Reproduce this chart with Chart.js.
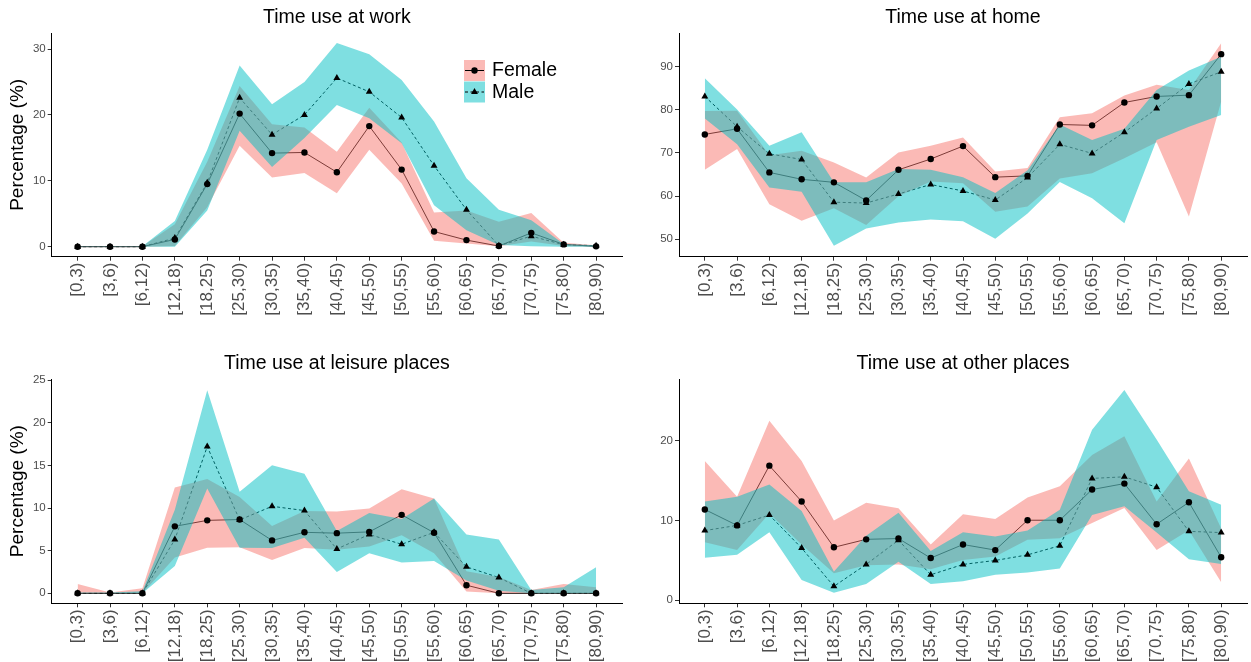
<!DOCTYPE html>
<html>
<head>
<meta charset="utf-8">
<script src="https://cdn.jsdelivr.net/npm/chart.js@4.4.0/dist/chart.umd.min.js"></script>
<style>
  html, body { margin: 0; padding: 0; background: #fff; }
  body { width: 1251px; height: 662px; position: relative; overflow: hidden; }
  .panel { position: absolute; }
  canvas { display: block; }
</style>
</head>
<body>
<div class="panel" style="left:0;top:0"><canvas id="work" width="626" height="331"></canvas></div>
<div class="panel" style="left:626px;top:0"><canvas id="home" width="625" height="331"></canvas></div>
<div class="panel" style="left:0;top:346px"><canvas id="leisure" width="626" height="316"></canvas></div>
<div class="panel" style="left:626px;top:346px"><canvas id="other" width="625" height="316"></canvas></div>
<script>
// Age groups
const categories = ['[0,3)', '[3,6)', '[6,12)', '[12,18)', '[18,25)', '[25,30)', '[30,35)', '[35,40)', '[40,45)',
    '[45,50)', '[50,55)', '[55,60)', '[60,65)', '[65,70)', '[70,75)', '[75,80)', '[80,90)'];

// Time use at work (%)
const femaleWork   = [0, 0, 0, 1.1, 9.5, 20.2, 14.2, 14.3, 11.3, 18.3, 11.7, 2.3, 1.0, 0.1, 2.1, 0.35, 0.05];
const femaleWorkLo = [0, 0, 0, 0.1, 6.0, 15.3, 10.5, 11.2, 8.1, 14.7, 9.6, 0.9, 0.5, 0.05, 0.8, 0.1, 0];
const femaleWorkHi = [0.05, 0.05, 0.05, 3.4, 12.9, 24.4, 18.6, 18.1, 14.4, 21.1, 15.8, 5.2, 5.5, 3.8, 5.1, 0.6, 0.2];
const maleWork     = [0, 0, 0, 1.3, 9.7, 22.6, 17.0, 20.0, 25.6, 23.5, 19.6, 12.3, 5.6, 0.15, 1.6, 0.3, 0.15];
const maleWorkLo   = [0, 0, 0, 0, 5.5, 17.6, 12.1, 16.5, 21.5, 19.5, 15.7, 6.3, 2.5, 0.25, 0.05, 0, 0];
const maleWorkHi   = [0.05, 0.05, 0.05, 3.9, 14.7, 27.5, 21.6, 25.0, 30.9, 29.2, 25.3, 19.0, 10.4, 5.6, 4.0, 0.4, 0.2];
const workTicks = [0, 10, 20, 30];

// Time use at home (%)
const femaleHome   = [74.3, 75.6, 65.5, 63.9, 63.2, 59.0, 66.1, 68.6, 71.6, 64.4, 64.7, 76.6, 76.4, 81.7, 83.1, 83.4, 92.9];
const femaleHomeLo = [66.1, 70.9, 58.1, 54.3, 57.2, 53.3, 60.0, 63.4, 63.0, 56.4, 57.6, 64.1, 65.3, 68.8, 72.5, 55.3, 81.9];
const femaleHomeHi = [79.7, 79.8, 69.5, 70.5, 67.8, 64.3, 70.1, 71.7, 73.6, 65.7, 66.5, 78.3, 79.2, 83.3, 85.8, 84.6, 95.4];
const maleHome     = [83.1, 76.1, 69.8, 68.5, 58.6, 58.4, 60.5, 62.7, 61.2, 59.1, 64.3, 72.0, 69.9, 74.8, 80.3, 86.0, 88.8];
const maleHomeLo   = [78.0, 72.0, 62.0, 61.0, 48.5, 52.5, 53.9, 54.6, 54.2, 50.1, 56.0, 63.3, 59.5, 53.7, 73.0, 76.1, 78.8];
const maleHomeHi   = [87.3, 80.1, 71.7, 74.8, 63.2, 63.2, 66.3, 66.1, 64.4, 60.7, 66.0, 76.6, 73.0, 75.6, 84.6, 89.1, 92.3];
const homeTicks = [50, 60, 70, 80, 90];

// Time use at leisure places (%)
const femaleLeisure   = [0, 0, 0, 7.85, 8.55, 8.65, 6.2, 7.15, 7.05, 7.2, 9.2, 7.1, 0.95, 0, 0, 0, 0];
const femaleLeisureLo = [0, 0, 0, 4.2, 5.35, 5.4, 3.9, 5.3, 5.1, 5.5, 6.8, 4.7, 0.2, 0, 0, 0, 0];
const femaleLeisureHi = [1.1, 0.1, 0.6, 12.4, 13.4, 11.3, 7.9, 9.65, 9.6, 9.95, 12.2, 11.1, 2.6, 1.9, 0.4, 1.1, 0.7];
const maleLeisure     = [0, 0, 0, 6.3, 17.2, 8.6, 10.2, 9.7, 5.2, 6.9, 5.75, 7.15, 3.1, 1.85, 0, 0, 0];
const maleLeisureLo   = [0, 0, 0, 3.2, 12.3, 5.35, 5.3, 6.5, 2.5, 4.7, 3.6, 3.8, 1.5, 0.3, 0, 0, 0];
const maleLeisureHi   = [0.1, 0.1, 0.25, 9.8, 23.8, 11.9, 15.0, 14.0, 7.3, 9.4, 8.7, 11.1, 6.9, 6.3, 0.4, 0.7, 3.05];
const leisureTicks = [0, 5, 10, 15, 20, 25];

// Time use at other places (%)
const femaleOther   = [11.4, 9.4, 16.9, 12.4, 6.65, 7.65, 7.75, 5.3, 7.0, 6.3, 10.05, 10.05, 13.9, 14.65, 9.55, 12.3, 5.4];
const femaleOtherLo = [7.3, 6.3, 10.9, 7.0, 3.4, 4.4, 4.5, 3.9, 5.05, 5.5, 7.6, 7.8, 9.7, 11.6, 6.3, 8.8, 2.25];
const femaleOtherHi = [17.5, 13.0, 22.55, 17.5, 10.0, 12.25, 11.55, 7.0, 10.8, 10.2, 12.9, 14.3, 18.25, 20.6, 12.4, 17.8, 9.0];
const maleOther     = [8.75, 9.4, 10.7, 6.55, 1.75, 4.5, 7.55, 3.2, 4.5, 5.0, 5.7, 6.85, 15.3, 15.5, 14.2, 8.65, 8.5];
const maleOtherLo   = [5.35, 5.7, 8.55, 2.55, 0.95, 2.05, 4.85, 2.05, 2.4, 3.2, 3.5, 4.0, 10.7, 11.8, 8.5, 5.15, 4.55];
const maleOtherHi   = [12.4, 13.0, 14.55, 11.2, 3.6, 8.1, 11.0, 6.2, 8.55, 8.0, 8.75, 11.35, 21.4, 26.4, 20.2, 13.7, 12.0];
const otherTicks = [0, 10, 20];

const PINK = 'rgba(248, 118, 109, 0.5)';
const TEAL = 'rgba(0, 191, 196, 0.5)';
const NONE = 'rgba(0, 0, 0, 0)';

Chart.defaults.font.family = '"Liberation Sans", Arial, Helvetica, sans-serif';

const pts = arr => arr.map((v, i) => ({ x: i, y: v }));

// legend drawn by hand in the work panel (ribbon square + line + marker)
const legendPlugin = {
    id: 'sexLegend',
    afterDatasetsDraw(chart) {
        const ctx = chart.ctx;
        const x = 464, w = 21;
        const rows = [
            { y: 60, fill: PINK, dash: [], style: 'circle', r: 3.2, text: 'Female' },
            { y: 81.5, fill: TEAL, dash: [3, 2.5], style: 'triangle', r: 4, text: 'Male' }
        ];
        ctx.save();
        rows.forEach(row => {
            ctx.fillStyle = row.fill;
            ctx.fillRect(x, row.y, w, w);
            const cy = row.y + w / 2;
            ctx.strokeStyle = '#000';
            ctx.lineWidth = 1;
            ctx.setLineDash(row.dash);
            ctx.beginPath();
            ctx.moveTo(x + 1, cy);
            ctx.lineTo(x + w - 1, cy);
            ctx.stroke();
            ctx.setLineDash([]);
            ctx.fillStyle = '#000';
            Chart.helpers.drawPoint(ctx, { pointStyle: row.style, radius: row.r, borderWidth: 0 }, x + w / 2, cy);
            ctx.fillStyle = '#000';
            ctx.font = '19.5px "Liberation Sans", Arial, sans-serif';
            ctx.textAlign = 'left';
            ctx.textBaseline = 'middle';
            ctx.fillText(row.text, x + w + 7, cy + 0.5);
        });
        ctx.restore();
    }
};

function makePanel(id, title, series, yTicks, yMin, yMax, cfg) {
    const [f, fLo, fHi, m, mLo, mHi] = series;
    new Chart(document.getElementById(id), {
        type: 'line',
        data: {
            datasets: [
                { label: 'Female line', data: pts(f), borderColor: '#000', borderWidth: 1, pointRadius: 0, fill: false, order: 5 },
                { label: 'Male line', data: pts(m), borderColor: '#000', borderWidth: 1, borderDash: [3, 2.5], pointRadius: 0, fill: false, order: 5 },
                { label: 'Female lo', data: pts(fLo), borderColor: NONE, borderWidth: 0, pointRadius: 0, fill: false, order: 4 },
                { label: 'Female hi', data: pts(fHi), borderColor: NONE, borderWidth: 0, pointRadius: 0, fill: 2, backgroundColor: PINK, order: 4 },
                { label: 'Male lo', data: pts(mLo), borderColor: NONE, borderWidth: 0, pointRadius: 0, fill: false, order: 3 },
                { label: 'Male hi', data: pts(mHi), borderColor: NONE, borderWidth: 0, pointRadius: 0, fill: 4, backgroundColor: TEAL, order: 3 },
                { label: 'Female', data: pts(f), showLine: false, pointStyle: 'circle', pointRadius: 3.2,
                  pointBackgroundColor: '#000', pointBorderWidth: 0, order: 1 },
                { label: 'Male', data: pts(m), showLine: false, pointStyle: 'triangle', pointRadius: 4,
                  pointBackgroundColor: '#000', pointBorderWidth: 0, order: 1 }
            ]
        },
        options: {
            responsive: false,
            animation: false,
            events: [],
            layout: { padding: { left: 0, right: cfg.padRight, top: 0, bottom: 0 } },
            plugins: {
                legend: { display: false },
                tooltip: { enabled: false },
                filler: { drawTime: 'beforeDatasetDraw' },
                title: {
                    display: true,
                    fullSize: false,
                    text: title,
                    color: '#000',
                    font: { size: 19.5, weight: 'normal' },
                    padding: { top: 6, bottom: 3.6 }
                }
            },
            scales: {
                x: {
                    type: 'linear',
                    min: -0.8,
                    max: 16.8,
                    afterBuildTicks: s => { s.ticks = categories.map((c, i) => ({ value: i })); },
                    afterFit: s => { s.height = cfg.xHeight; },
                    ticks: {
                        autoSkip: false,
                        minRotation: 90,
                        maxRotation: 90,
                        color: '#4d4d4d',
                        font: { size: 17 },
                        padding: 2,
                        callback: (v, i) => categories[i]
                    },
                    grid: { drawOnChartArea: false, drawTicks: true, tickLength: 4, color: '#333' },
                    border: { display: true, color: '#000', width: 1 }
                },
                y: {
                    type: 'linear',
                    min: yMin,
                    max: yMax,
                    afterBuildTicks: s => { s.ticks = yTicks.map(v => ({ value: v })); },
                    afterFit: s => { s.width = cfg.yWidth; },
                    ticks: { color: '#4d4d4d', font: { size: 11.5 }, padding: 2 },
                    grid: { drawOnChartArea: false, drawTicks: true, tickLength: 4, color: '#333' },
                    border: { display: true, color: '#000', width: 1 },
                    title: {
                        display: cfg.yTitle,
                        text: 'Percentage (%)',
                        color: '#000',
                        font: { size: 19 },
                        padding: { top: 6, bottom: 0 }
                    }
                }
            }
        },
        plugins: cfg.legend ? [legendPlugin] : []
    });
}

makePanel('work', 'Time use at work',
    [femaleWork, femaleWorkLo, femaleWorkHi, maleWork, maleWorkLo, maleWorkHi],
    workTicks, -1.52, 32.43, { yWidth: 51.7, xHeight: 74.3, padRight: 2.3, yTitle: true, legend: true });

makePanel('home', 'Time use at home',
    [femaleHome, femaleHomeLo, femaleHomeHi, maleHome, maleHomeLo, maleHomeHi],
    homeTicks, 45.97, 97.8, { yWidth: 53, xHeight: 74.3, padRight: 0, yTitle: false, legend: false });

makePanel('leisure', 'Time use at leisure places',
    [femaleLeisure, femaleLeisureLo, femaleLeisureHi, maleLeisure, maleLeisureLo, maleLeisureHi],
    leisureTicks, -1.17, 25.12, { yWidth: 51.7, xHeight: 58.7, padRight: 2.3, yTitle: true, legend: false });

makePanel('other', 'Time use at other places',
    [femaleOther, femaleOtherLo, femaleOtherHi, maleOther, maleOtherLo, maleOtherHi],
    otherTicks, -0.38, 27.78, { yWidth: 53, xHeight: 58.7, padRight: 0, yTitle: false, legend: false });
</script>
</body>
</html>
